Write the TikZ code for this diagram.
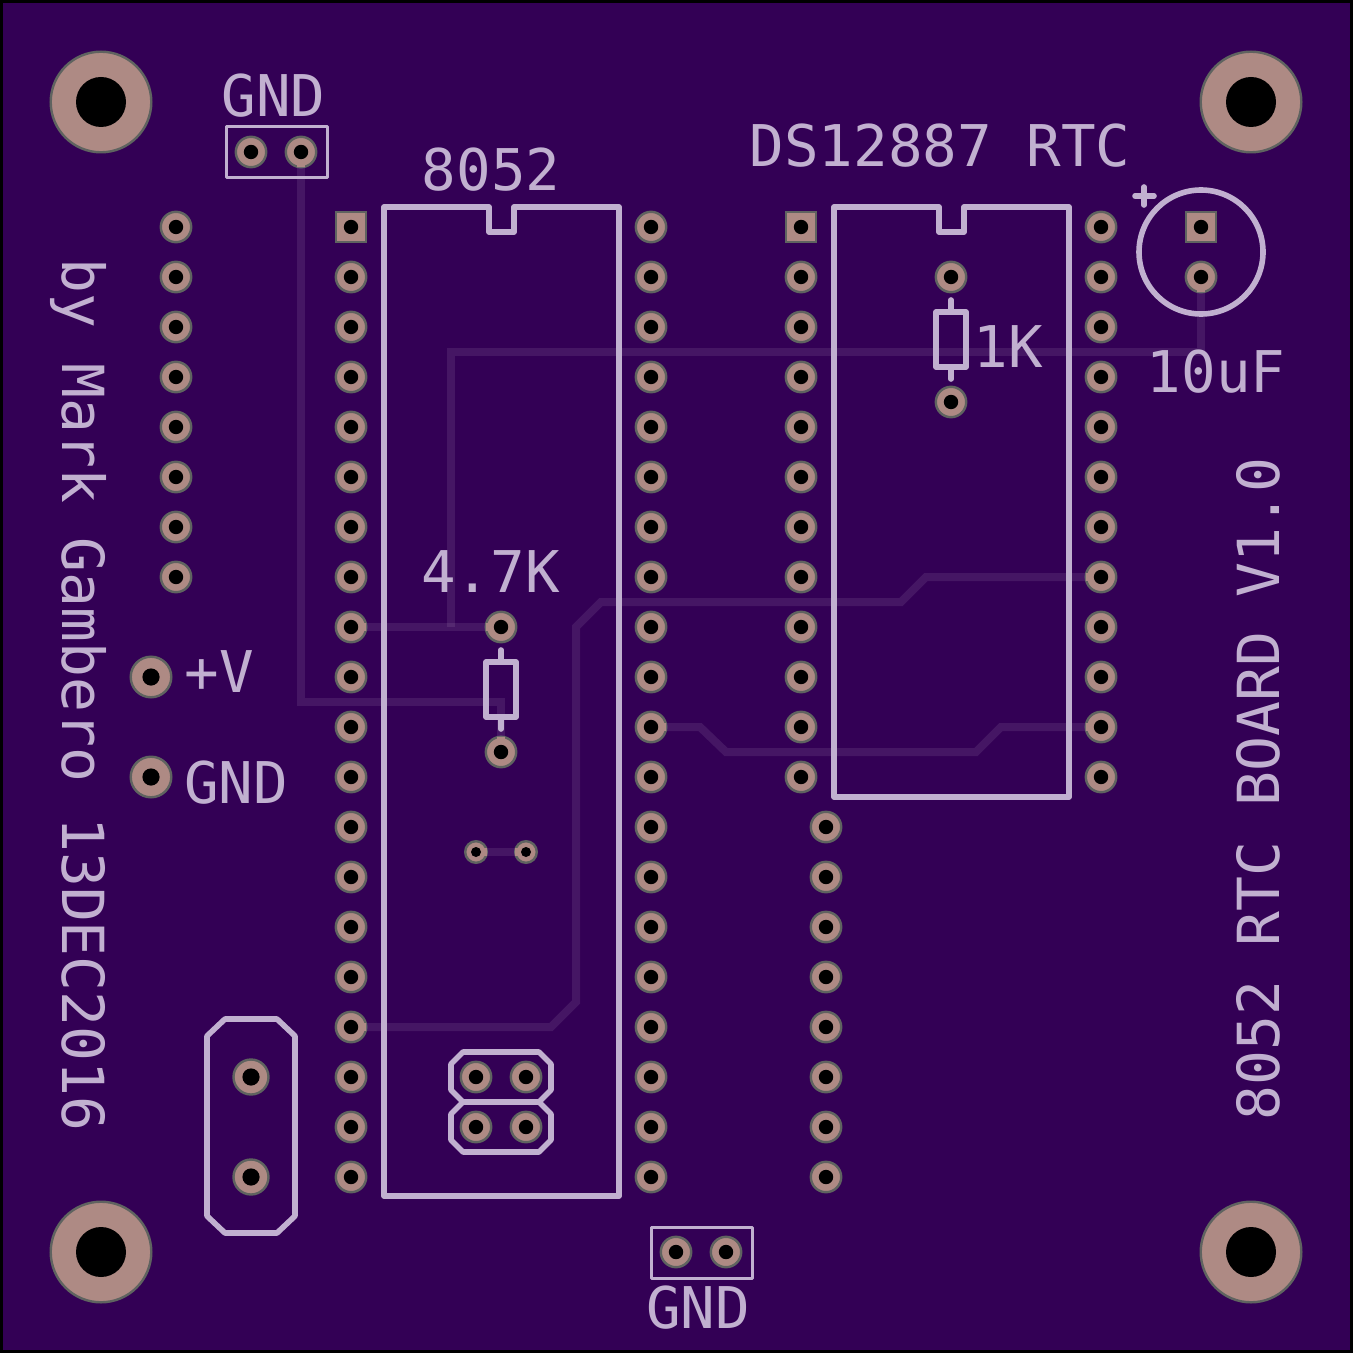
\documentclass[tikz,border=0pt]{standalone}
\usepackage{fontspec}
\newfontfamily\silkfont{DejaVu Sans Mono}
\definecolor{boardcol}{HTML}{330055}
\definecolor{silkcol}{HTML}{C1B0D0}
\definecolor{padcol}{HTML}{AE8A84}
\definecolor{edgecol}{HTML}{5F6360}
\tikzset{
  padr/.style={circle,fill=padcol,draw=edgecol,line width=1.2pt,inner sep=0pt,outer sep=0pt,minimum size=15.2pt,
    path picture={\fill[black] (path picture bounding box.center) circle (3.6pt);}},
  pads/.style={rectangle,fill=padcol,draw=edgecol,line width=1.2pt,inner sep=0pt,outer sep=0pt,minimum size=15.2pt,
    path picture={\fill[black] (path picture bounding box.center) circle (3.6pt);}},
  padxtal/.style={padr,minimum size=17.5pt,path picture={\fill[black] (path picture bounding box.center) circle (4.3pt);}},
  padvia/.style={padr,minimum size=10.8pt,path picture={\fill[black] (path picture bounding box.center) circle (2.5pt);}},
  padpow/.style={padr,minimum size=20.3pt,path picture={\fill[black] (path picture bounding box.center) circle (4.3pt);}},
  padmnt/.style={padr,minimum size=50.3pt,path picture={\fill[black] (path picture bounding box.center) circle (12.5pt);}},
  trace/.style={draw=silkcol,draw opacity=.13,line width=4pt,line join=miter},
  stub/.style={draw=padcol,line width=4pt},
  silk/.style={draw=silkcol,line width=2.8pt,line join=round,line cap=round},
  silkthin/.style={draw=silkcol,line width=1.5pt,line join=round},
  silktext/.style={text=silkcol,inner sep=0pt,text height=21pt,text depth=0pt,font=\silkfont\fontsize{28.75pt}{30pt}\selectfont},
  silklong/.style={silktext,font=\silkfont\fontsize{29pt}{30pt}\selectfont}
}
\begin{document}
\begin{tikzpicture}[x=.5pt,y=-.5pt]
\fill[black] (0,0) rectangle (1353,1353);
\fill[boardcol] (3,3) rectangle (1350,1350);
\useasboundingbox (0,0) rectangle (1353,1353);
\foreach \i in {1,...,8}
  \node[padr] (hdr\i) at (176,177+50*\i) {};
\foreach \i in {2,...,20}
  \node[padr] (ua\i) at (351,177+50*\i) {};
\node[pads] (ua1) at (351,227) {};
\foreach \i in {1,...,20}
  \node[padr] (ub\i) at (651,177+50*\i) {};
\foreach \i in {2,...,12}
  \node[padr] (ra\i) at (801,177+50*\i) {};
\node[pads] (ra1) at (801,227) {};
\foreach \i in {1,...,12}
  \node[padr] (rb\i) at (1101,177+50*\i) {};
\foreach \i in {1,...,8}
  \node[padr] (lwr\i) at (826,777+50*\i) {};
\node[padr] (gnda) at (251,152) {};
\node[padr] (gndb) at (301,152) {};
\node[padr] (gndc) at (676,1252) {};
\node[padr] (gndd) at (726,1252) {};
\node[padr] (resa) at (501,627) {};
\node[padr] (resb) at (501,752) {};
\node[padr] (resc) at (951,277) {};
\node[padr] (resd) at (951,402) {};
\node[pads] (capa) at (1201,227) {};
\node[padr] (capb) at (1201,277) {};
\node[padvia] (viaa) at (476,852) {};
\node[padvia] (viab) at (526,852) {};
\node[padpow] (powv) at (151,677) {};
\node[padpow] (powg) at (151,777) {};
\node[padxtal] (xtala) at (251,1077) {};
\node[padxtal] (xtalb) at (251,1177) {};
\node[padr] (jpa) at (476,1077) {};
\node[padr] (jpb) at (526,1077) {};
\node[padr] (jpc) at (476,1127) {};
\node[padr] (jpd) at (526,1127) {};
\node[padmnt] (mnta) at (101,102) {};
\node[padmnt] (mntb) at (1251,102) {};
\node[padmnt] (mntc) at (101,1252) {};
\node[padmnt] (mntd) at (1251,1252) {};

\draw[silk] (384,207) -- (489,207) -- (489,232) -- (514,232) -- (514,207) -- (619,207) -- (619,1196) -- (384,1196) -- cycle;
\draw[silk] (834,207) -- (939,207) -- (939,232) -- (964,232) -- (964,207) -- (1069,207) -- (1069,797) -- (834,797) -- cycle;
\draw[silk] (486,662) rectangle (516,717);
\draw[silk] (936,312) rectangle (966,367);
\draw[silk] (501,650) -- (501,662) (501,717) -- (501,729);
\draw[silk] (951,300) -- (951,312) (951,367) -- (951,379);
\draw[silk] (225,1019) -- (277,1019) -- (295,1036) -- (295,1216) -- (277,1233) -- (225,1233) -- (207,1216) -- (207,1036) -- cycle;
\draw[silk] (463,1052) -- (539,1052) -- (551,1064) -- (551,1090) -- (539,1102) -- (463,1102) -- (451,1090) -- (451,1064) -- cycle;
\draw[silk] (463,1102) -- (539,1102) -- (551,1114) -- (551,1140) -- (539,1152) -- (463,1152) -- (451,1140) -- (451,1114) -- cycle;
\node[draw=silkcol,line width=2.8pt,circle,inner sep=0pt,outer sep=0pt,minimum size=62pt] (capo) at (1201,252) {};
\draw[silk] (1135,196) -- (1154,196) (1144,187) -- (1144,205);
\node[silkthin,draw,rectangle,inner sep=0pt,minimum width=50.5pt,minimum height=25.5pt] (boxa) at (276.5,152.5) {};
\node[silkthin,draw,rectangle,inner sep=0pt,minimum width=50.5pt,minimum height=25.5pt] (boxb) at (701.5,1252.5) {};

\coordinate (bnda) at (301,702);
\coordinate (bndb) at (501,702);
\coordinate (bndc) at (451,627);
\coordinate (bndd) at (451,352);
\coordinate (bnde) at (1201,352);
\draw[trace] (gndb) -- (bnda) -- (bndb) -- (resb);
\draw[trace] (ua9) -- (resa);
\draw[trace] (bndc) -- (bndd) -- (bnde) -- (capb);
\draw[trace] (ub11) -- (700,727) -- (726,752) -- (976,752) -- (1001,727) -- (rb11);
\draw[trace] (ua17) -- (551,1027) -- (576,1002) -- (576,627) -- (601,602) -- (901,602) -- (926,577) -- (rb8);
\draw[trace] (viaa) -- (viab);

\draw[stub] (gndb.south) -- ++(0,-4);
\draw[stub] (ua9.east) -- ++(-4,0);
\draw[stub] (resa.west) -- ++(4,0);
\draw[stub] (resb.north) -- ++(0,4);
\draw[stub] (capb.south) -- ++(0,-4);
\draw[stub] (ub11.east) -- ++(-4,0);
\draw[stub] (rb11.west) -- ++(4,0);
\draw[stub] (ua17.east) -- ++(-4,0);
\draw[stub] (rb8.west) -- ++(4,0);
\draw[stub] (viaa.east) -- ++(-3,0);
\draw[stub] (viab.west) -- ++(3,0);

\node[silktext] (lgnda) at (273.5,96) {GND};
\node[silktext] (lmcu) at (491,170) {8052};
\node[silktext] (lres) at (490.5,571) {4.7K};
\node[silktext] (lrtc) at (940,146) {DS12887 RTC};
\node[silktext] (lone) at (1008,346) {1K};
\node[silktext] (lcap) at (1216,372) {10uF};
\node[silktext] (lplus) at (219,671) {+V};
\node[silktext] (lgndb) at (236,782) {GND};
\node[silktext] (lgndc) at (698,1307) {GND};
\node[silklong,rotate=-90] (lauth) at (83,695) {by Mark Gambero 13DEC2016};
\node[silklong,rotate=90] (lbrd) at (1258,789) {8052 RTC BOARD V1.0};
\end{tikzpicture}
\end{document}
